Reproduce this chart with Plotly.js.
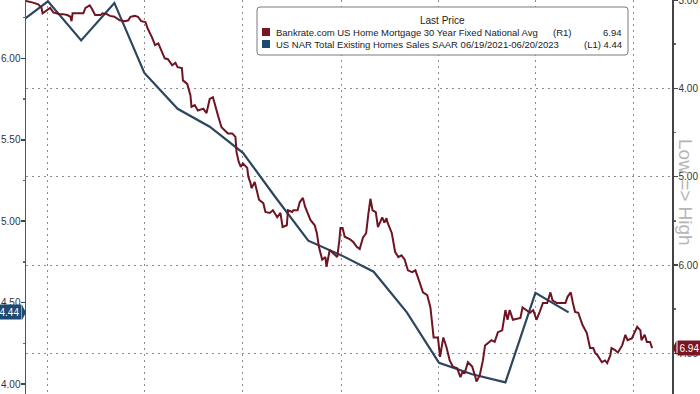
<!DOCTYPE html>
<html><head><meta charset="utf-8">
<script src="https://cdn.plot.ly/plotly-3.0.1.min.js"></script>
<style>html,body{margin:0;padding:0;background:#fff}#chart{width:700px;height:394px}</style>
</head><body><div id="chart"></div>
<script>
// Bankrate.com US Home Mortgage 30 Year Fixed National Avg (R1, inverted axis)
const rateDates = [
'2021-11-09','2021-11-13','2021-11-16','2021-11-21','2021-11-24','2021-11-25','2021-11-29','2021-12-02','2021-12-05','2021-12-08',
'2021-12-11','2021-12-14','2021-12-18','2021-12-21','2021-12-22','2021-12-23','2021-12-28','2022-01-02','2022-01-04','2022-01-06',
'2022-01-08','2022-01-10','2022-01-13','2022-01-18','2022-01-20','2022-01-24','2022-01-27','2022-01-31','2022-02-05','2022-02-10',
'2022-02-13','2022-02-15','2022-02-19','2022-02-22','2022-02-25','2022-03-01','2022-03-03','2022-03-07','2022-03-10','2022-03-13',
'2022-03-16','2022-03-19','2022-03-22','2022-03-26','2022-03-29','2022-03-31','2022-04-04','2022-04-05','2022-04-09','2022-04-12',
'2022-04-13','2022-04-16','2022-04-19','2022-04-24','2022-04-27','2022-04-30','2022-05-03','2022-05-05','2022-05-08','2022-05-11',
'2022-05-14','2022-05-17','2022-05-21','2022-05-24','2022-05-25','2022-05-27','2022-05-29','2022-05-31','2022-06-04','2022-06-05',
'2022-06-07','2022-06-08','2022-06-11','2022-06-13','2022-06-15','2022-06-19','2022-06-21','2022-06-25','2022-06-28','2022-07-02',
'2022-07-05','2022-07-07','2022-07-11','2022-07-12','2022-07-16','2022-07-17','2022-07-21','2022-07-23','2022-07-26','2022-07-28',
'2022-07-30','2022-08-02','2022-08-06','2022-08-08','2022-08-10','2022-08-13','2022-08-16','2022-08-17','2022-08-20','2022-08-23',
'2022-08-27','2022-08-29','2022-08-30','2022-09-01','2022-09-03','2022-09-08','2022-09-11','2022-09-14','2022-09-17','2022-09-20',
'2022-09-23','2022-09-25','2022-09-27','2022-09-29','2022-10-02','2022-10-04','2022-10-06','2022-10-08','2022-10-10','2022-10-12',
'2022-10-13','2022-10-17','2022-10-20','2022-10-23','2022-10-26','2022-10-29','2022-11-01','2022-11-05','2022-11-08','2022-11-09',
'2022-11-12','2022-11-15','2022-11-19','2022-11-22','2022-11-23','2022-11-25','2022-11-29','2022-12-01','2022-12-04','2022-12-07',
'2022-12-10','2022-12-13','2022-12-17','2022-12-20','2022-12-22','2022-12-24','2022-12-27','2022-12-31','2023-01-03','2023-01-04',
'2023-01-07','2023-01-10','2023-01-12','2023-01-15','2023-01-18','2023-01-21','2023-01-24','2023-01-28','2023-01-31','2023-02-02',
'2023-02-04','2023-02-07','2023-02-14','2023-02-16','2023-02-20','2023-02-23','2023-02-26','2023-03-01','2023-03-04','2023-03-07',
'2023-03-11','2023-03-14','2023-03-16','2023-03-20','2023-03-25','2023-03-28','2023-03-30','2023-04-02','2023-04-04','2023-04-06',
'2023-04-09','2023-04-11','2023-04-13','2023-04-17','2023-04-18','2023-04-20','2023-04-23','2023-04-25','2023-04-27','2023-05-01',
'2023-05-04','2023-05-06','2023-05-09','2023-05-10','2023-05-13','2023-05-16','2023-05-20','2023-05-23','2023-05-25','2023-05-29',
'2023-06-03','2023-06-06','2023-06-07','2023-06-10','2023-06-12','2023-06-15','2023-06-17'
];
const rateValues = [
3.01,3.02,3.03,3.05,3.09,3.15,3.12,3.09,3.14,3.15,
3.16,3.16,3.17,3.19,3.24,3.15,3.15,3.15,3.09,3.07,
3.06,3.10,3.17,3.17,3.15,3.16,3.18,3.19,3.23,3.24,
3.23,3.19,3.18,3.19,3.24,3.25,3.32,3.42,3.51,3.49,
3.57,3.66,3.67,3.74,3.71,3.76,3.77,3.91,3.95,4.08,
4.21,4.19,4.25,4.23,4.28,4.12,4.10,4.20,4.32,4.44,
4.47,4.51,4.51,4.55,4.72,4.83,4.89,4.85,4.90,5.00,
5.07,5.13,5.06,5.18,5.26,5.30,5.40,5.41,5.38,5.46,
5.41,5.57,5.55,5.38,5.40,5.38,5.38,5.29,5.24,5.34,
5.40,5.49,5.55,5.64,5.80,5.94,5.91,6.02,5.83,5.86,
5.91,5.72,5.58,5.58,5.68,5.71,5.74,5.79,5.82,5.69,
5.64,5.43,5.25,5.38,5.40,5.57,5.51,5.46,5.52,5.47,
5.52,5.64,5.85,5.91,5.89,5.94,6.06,6.08,6.06,6.09,
6.20,6.31,6.34,6.48,6.62,6.82,6.82,7.04,6.82,6.93,
7.08,7.15,7.17,7.27,7.21,7.22,7.10,7.15,7.27,7.32,
7.25,7.08,6.91,6.88,6.85,6.87,6.76,6.74,6.51,6.62,
6.51,6.62,6.60,6.48,6.51,6.54,6.51,6.62,6.53,6.43,
6.43,6.31,6.40,6.43,6.43,6.43,6.36,6.31,6.43,6.53,
6.54,6.62,6.68,6.77,6.83,6.94,6.94,7.00,7.02,7.10,
7.08,7.11,7.02,6.94,6.96,6.99,6.91,6.79,6.85,6.83,
6.70,6.74,6.85,6.79,6.87,6.87,6.94
];
// US NAR Total Existing Homes Sales SAAR (L1), millions
const salesDates = [
'2021-10-31','2021-11-30','2021-12-31','2022-01-31','2022-02-28','2022-03-31','2022-04-30','2022-05-31','2022-06-30',
'2022-07-31','2022-08-31','2022-09-30','2022-10-31','2022-11-30','2022-12-31','2023-01-31','2023-02-28','2023-03-31'
];
const salesValues = [6.20,6.35,6.11,6.34,5.91,5.69,5.58,5.42,5.15,4.88,4.79,4.69,4.44,4.13,4.06,4.01,4.56,4.44];

const gridDates = ['2021-11-30','2022-02-28','2022-05-31','2022-08-31','2022-11-30','2023-02-28','2023-05-31'];
const leftTicks = [4.0,4.5,5.0,5.5,6.0];
const rightTicks = [3,4,5,6,7];
const seriesNames = ['Bankrate.com US Home Mortgage 30 Year Fixed National Avg','US NAR Total Existing Homes Sales SAAR 06/19/2021-06/20/2023'];
const seriesTags = ['(R1)','(L1)'];
const lastRate = 6.94, lastSales = 4.44;

const RED = '#6e1423', BLUE = '#2c4660', RED_BOX = '#7a1622', BLUE_BOX = '#1d4a72';
const W = 700, H = 394, L = 26, R = 28, PW = W - L - R;
const px = p => (p - L) / PW;
const py = p => 1 - p / H;
const leftRange = [3.939, 6.358];
const rightRange = [7.46, 3.0];
const FONT = '"Liberation Sans",Arial,sans-serif';
const leftPaper = v => (v - leftRange[0]) / (leftRange[1] - leftRange[0]);
const rightPaper = v => (rightRange[0] - v) / (rightRange[0] - rightRange[1]);

const traces = [
  {x: salesDates, y: salesValues, yaxis: 'y', type: 'scatter', mode: 'lines',
   line: {color: BLUE, width: 2.2}, name: seriesNames[1], hoverinfo: 'skip'},
  {x: rateDates, y: rateValues, yaxis: 'y2', type: 'scatter', mode: 'lines',
   line: {color: RED, width: 2}, name: seriesNames[0], hoverinfo: 'skip'}
];

// legend box (rounded)
const bx0 = px(257), bx1 = px(628), by0 = py(55), by1 = py(7);
const rx = 3 / PW, ry = 3 / H;
const boxPath = `M ${bx0+rx},${by0} L ${bx1-rx},${by0} Q ${bx1},${by0} ${bx1},${by0+ry} L ${bx1},${by1-ry} Q ${bx1},${by1} ${bx1-rx},${by1} L ${bx0+rx},${by1} Q ${bx0},${by1} ${bx0},${by1-ry} L ${bx0},${by0+ry} Q ${bx0},${by0} ${bx0+rx},${by0} Z`;

const yb = leftPaper(lastSales), yr = rightPaper(lastRate);
const hh = 7.5 / H;
const shapes = [
  {type: 'path', xref: 'paper', yref: 'paper', path: boxPath, fillcolor: '#ffffff', line: {color: '#7a7a7a', width: 1}, layer: 'above'},
  {type: 'rect', xref: 'paper', yref: 'paper', x0: px(262), x1: px(270), y0: py(36), y1: py(28), fillcolor: RED_BOX, line: {width: 0}, layer: 'above'},
  {type: 'rect', xref: 'paper', yref: 'paper', x0: px(262), x1: px(270), y0: py(48), y1: py(40), fillcolor: BLUE_BOX, line: {width: 0}, layer: 'above'},
  {type: 'path', xref: 'paper', yref: 'paper', path: `M ${px(22)},${yb-hh} L ${px(26)},${yb} L ${px(22)},${yb+hh} Z`, fillcolor: BLUE_BOX, line: {width: 0}, layer: 'above'},
  {type: 'path', xref: 'paper', yref: 'paper', path: `M ${px(676.5)},${yr-hh} L ${px(672.5)},${yr} L ${px(676.5)},${yr+hh} Z`, fillcolor: RED_BOX, line: {width: 0}, layer: 'above'}
];

const legFont = {family: FONT, size: 9.5, color: '#222'};
const annotations = [
  {xref: 'paper', yref: 'paper', x: px(442), y: py(20), text: 'Last Price', showarrow: false, xanchor: 'center', yanchor: 'middle', font: {family: FONT, size: 10, color: '#222'}},
  {xref: 'paper', yref: 'paper', x: px(274), y: py(32), text: seriesNames[0], showarrow: false, xanchor: 'left', yanchor: 'middle', font: legFont},
  {xref: 'paper', yref: 'paper', x: px(551), y: py(32), text: seriesTags[0], showarrow: false, xanchor: 'left', yanchor: 'middle', font: legFont},
  {xref: 'paper', yref: 'paper', x: px(624), y: py(32), text: lastRate.toFixed(2), showarrow: false, xanchor: 'right', yanchor: 'middle', font: legFont},
  {xref: 'paper', yref: 'paper', x: px(274), y: py(44), text: seriesNames[1], showarrow: false, xanchor: 'left', yanchor: 'middle', font: legFont},
  {xref: 'paper', yref: 'paper', x: px(624), y: py(44), text: seriesTags[1] + ' ' + lastSales.toFixed(2), showarrow: false, xanchor: 'right', yanchor: 'middle', font: legFont},
  {xref: 'paper', yref: 'paper', x: px(686), y: py(192), text: 'Low => High', textangle: 90, showarrow: false, xanchor: 'center', yanchor: 'middle', font: {family: FONT, size: 19, color: '#b5b5b5'}},
  {xref: 'paper', yref: 'paper', x: px(22), y: yb, text: lastSales.toFixed(2), showarrow: false, xanchor: 'right', yanchor: 'middle', bgcolor: BLUE_BOX, borderpad: 1.5, font: {family: FONT, size: 10, color: '#ffffff'}},
  {xref: 'paper', yref: 'paper', x: px(676.5), y: yr, text: lastRate.toFixed(2), showarrow: false, xanchor: 'left', yanchor: 'middle', bgcolor: RED_BOX, borderpad: 1.5, font: {family: FONT, size: 10, color: '#ffffff'}}
];

const tickFont = {family: FONT, size: 10, color: '#333'};
const GRID_DASH = '1.5px,4.5px';
const layout = {
  width: W, height: H,
  margin: {l: L, r: R, t: 0, b: 0, pad: 0},
  paper_bgcolor: '#ffffff', plot_bgcolor: '#ffffff',
  showlegend: false,
  font: {family: FONT, size: 10, color: '#333'},
  xaxis: {type: 'date', range: ['2021-11-09 12:00', '2023-07-05 12:00'], tickmode: 'array', tickvals: gridDates,
          showticklabels: false, ticks: '', showgrid: true, gridcolor: '#8c8c8c', griddash: GRID_DASH, gridwidth: 1,
          zeroline: false, showline: false},
  yaxis: {range: leftRange, side: 'left', tickmode: 'array', tickvals: leftTicks, ticktext: leftTicks.map(v => v.toFixed(2)),
          ticks: 'outside', ticklen: 4, tickwidth: 1.5, tickcolor: '#444', showline: true, linecolor: '#555', linewidth: 1.5,
          showgrid: false, zeroline: false, tickfont: tickFont, ticklabeloverflow: 'allow', ticklabelstandoff: -2,
          minor: {dtick: 0.25, tick0: 0, ticks: 'outside', ticklen: 2, tickcolor: '#666', showgrid: false}},
  yaxis2: {range: rightRange, overlaying: 'y', side: 'right', tickmode: 'array', tickvals: rightTicks, ticktext: rightTicks.map(v => v.toFixed(2)),
          ticks: 'outside', ticklen: 4, tickwidth: 1.5, tickcolor: '#444', showline: true, linecolor: '#444', linewidth: 1.5,
          showgrid: true, gridcolor: '#8c8c8c', griddash: GRID_DASH, gridwidth: 1, zeroline: false,
          tickfont: tickFont, ticklabeloverflow: 'allow', ticklabelstandoff: -1,
          minor: {dtick: 0.5, tick0: 0, ticks: 'outside', ticklen: 2, tickcolor: '#666', showgrid: false}},
  shapes: shapes,
  annotations: annotations
};

Plotly.newPlot('chart', traces, layout, {staticPlot: true, displayModeBar: false});
</script>
</body></html>
